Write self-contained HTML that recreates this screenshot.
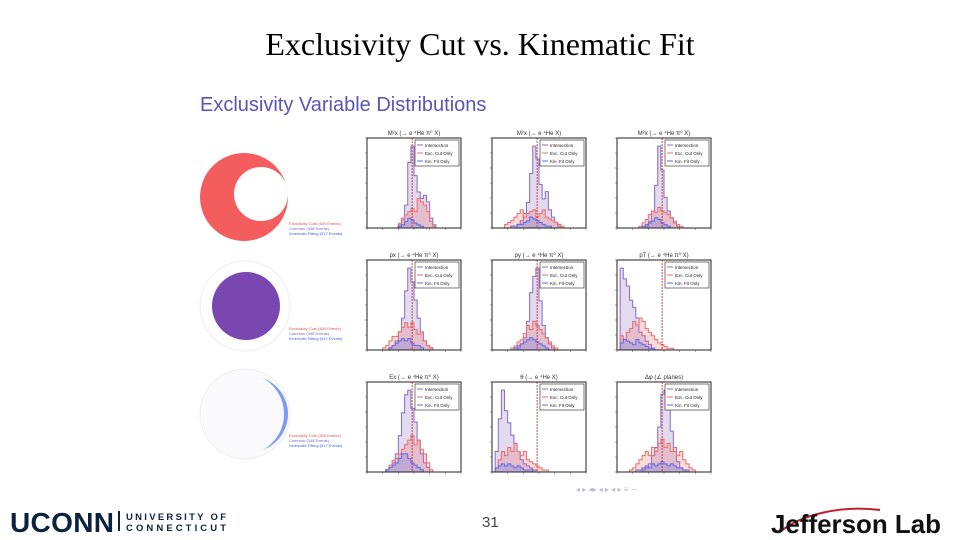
<!DOCTYPE html>
<html><head><meta charset="utf-8"><style>
body{margin:0;width:960px;height:540px;background:#fff;position:relative;overflow:hidden;font-family:"Liberation Sans",sans-serif}
.t{position:absolute}
</style></head><body>
<div class="t" style="left:0;width:960px;top:26px;text-align:center;font-family:'Liberation Serif',serif;font-size:32px;color:#000">Exclusivity Cut vs. Kinematic Fit</div>
<div class="t" style="left:200px;top:94px;font-size:20px;color:#5b55b8">Exclusivity Variable Distributions</div>
<svg class="t" style="left:0;top:0" width="960" height="540">
 <defs><clipPath id="c3"><circle cx="245" cy="414" r="45"/></clipPath></defs>
 <g>
  <circle cx="244" cy="197" r="44" fill="#f45d5d"/>
  <circle cx="261" cy="194" r="27" fill="#fff"/>
  <text x="289" y="225" font-size="4" fill="#e05050">Exclusivity Cuts (600 Events)</text>
  <text x="289" y="230" font-size="4" fill="#8060c0">Common (348 Events)</text>
  <text x="289" y="235" font-size="4" fill="#4060e0">Kinematic Fitting (517 Events)</text>
 </g>
 <g>
  <circle cx="245" cy="306" r="45" fill="none" stroke="#eee"/>
  <circle cx="246" cy="306" r="34" fill="#7a46b0"/>
  <text x="289" y="330" font-size="4" fill="#e05050">Exclusivity Cuts (600 Events)</text>
  <text x="289" y="335" font-size="4" fill="#8060c0">Common (348 Events)</text>
  <text x="289" y="340" font-size="4" fill="#4060e0">Kinematic Fitting (517 Events)</text>
 </g>
 <g>
  <circle cx="245" cy="414" r="45" fill="#fafafc" stroke="#eee"/>
  <g clip-path="url(#c3)"><circle cx="250" cy="414" r="38" fill="#7f9af0"/><circle cx="243" cy="414" r="41" fill="#fafafc"/></g>
  <text x="289" y="437" font-size="4" fill="#e05050">Exclusivity Cuts (600 Events)</text>
  <text x="289" y="442" font-size="4" fill="#8060c0">Common (348 Events)</text>
  <text x="289" y="447" font-size="4" fill="#4060e0">Kinematic Fitting (517 Events)</text>
 </g>
 <g id="panels"></g>
 <text x="576" y="492" font-size="8" fill="#bbc">◂ ▸ ◂▸ ◂ ▸ ◂ ▸ ≡ ∽</text>
 <text x="482" y="527" font-size="15" fill="#444">31</text>
 <text x="10" y="532" font-size="28" font-weight="bold" fill="#0c2340" textLength="104">UCONN</text>
 <rect x="118" y="511" width="2" height="20" fill="#0c2340"/>
 <text x="126" y="520" font-size="9.5" font-weight="bold" fill="#0c2340" textLength="100">UNIVERSITY OF</text>
 <text x="126" y="531" font-size="9.5" font-weight="bold" fill="#0c2340" textLength="100">CONNECTICUT</text>
 <path d="M780,532 C800,515 840,505 880,510" stroke="#c02030" stroke-width="2" fill="none"/>
 <text x="771" y="533" font-size="26" font-weight="bold" fill="#111" textLength="170" lengthAdjust="spacingAndGlyphs">Jefferson Lab</text>
</svg>
<script>
const titles=["M²x (→ e ⁴He π⁰ X)","M²x (→ e ⁴He X)","M²x (→ e ⁴He π⁰ X)","px (→ e ⁴He π⁰ X)","py (→ e ⁴He π⁰ X)","pT (→ e ⁴He π⁰ X)","Ex (→ e ⁴He π⁰ X)","θ (→ e ⁴He X)","Δφ (∠ planes)"];
const intersection=[
[0,0,0,0,0,0,0,0,0,0,2,5,14,40,50,32,22,18,20,16,6,2,0,0,0,0,0,0,0,0],
[0,0,0,0,0,0,0,0,2,4,8,14,30,45,38,24,16,20,10,6,3,1,0,0,0,0,0,0,0,0],
[0,0,0,0,0,0,0,0,0,1,4,10,25,48,34,18,10,6,3,1,0,0,0,0,0,0,0,0,0,0],
[0,0,0,0,0,0,0,1,2,4,8,14,26,36,30,22,14,8,4,2,1,0,0,0,0,0,0,0,0,0],
[0,0,0,0,0,0,0,0,1,3,6,14,28,36,40,24,12,6,3,1,0,0,0,0,0,0,0,0,0,0],
[0,46,40,36,28,24,18,10,8,5,3,1,0,0,0,0,0,0,0,0,0,0,0,0,0,0,0,0,0,0],
[0,0,0,0,0,0,1,2,4,8,16,26,34,36,28,22,14,8,4,2,0,0,0,0,0,0,0,0,0,0],
[0,10,26,40,30,24,18,14,10,6,4,3,2,1,0,0,0,0,0,0,0,0,0,0,0,0,0,0,0,0],
[0,0,0,0,0,0,0,0,1,2,4,8,12,22,38,40,32,20,10,5,2,1,0,0,0,0,0,0,0,0]];
const excCutOnly=[
[0,0,0,0,0,0,0,0,0,0,3,6,8,10,12,10,18,16,14,10,4,1,0,0,0,0,0,0,0,0],
[0,0,0,0,2,3,4,6,8,10,6,8,9,10,6,8,10,6,5,4,3,2,1,0,0,0,0,0,0,0],
[0,0,0,0,0,0,0,1,3,5,8,10,9,12,10,9,8,6,4,2,1,0,0,0,0,0,0,0,0,0],
[0,0,0,0,0,1,2,4,6,6,8,10,12,10,12,9,7,8,4,2,1,0,0,0,0,0,0,0,0,0],
[0,0,0,0,0,0,1,2,4,5,8,12,10,14,12,10,8,6,4,2,1,0,0,0,0,0,0,0,0,0],
[0,8,6,10,12,16,14,18,16,12,10,8,6,4,3,2,1,1,0,0,0,0,0,0,0,0,0,0,0,0],
[0,0,0,0,0,0,1,3,5,6,8,10,12,14,16,12,14,10,8,4,1,0,0,0,0,0,0,0,0,0],
[0,2,6,10,8,12,10,14,10,8,10,6,5,4,3,2,1,1,0,0,0,0,0,0,0,0,0,0,0,0],
[0,0,0,0,1,2,4,6,8,10,8,12,10,14,16,12,14,10,12,8,10,6,4,2,1,0,0,0,0,0]];
const kinFitOnly=[
[0,0,0,0,0,0,0,0,0,0,1,2,4,6,5,3,2,1,0,0,0,0,0,0,0,0,0,0,0,0],
[0,0,0,0,0,0,1,1,2,2,3,4,6,5,4,3,2,1,1,0,0,0,0,0,0,0,0,0,0,0],
[0,0,0,0,0,0,0,0,1,2,3,4,6,5,3,2,1,0,0,0,0,0,0,0,0,0,0,0,0,0],
[0,0,0,0,0,0,0,1,2,3,4,5,4,5,3,2,2,1,0,0,0,0,0,0,0,0,0,0,0,0],
[0,0,0,0,0,0,0,1,2,3,4,5,6,5,4,3,2,1,0,0,0,0,0,0,0,0,0,0,0,0],
[0,4,6,5,4,3,6,4,3,2,1,1,0,0,0,0,0,0,0,0,0,0,0,0,0,0,0,0,0,0],
[0,0,0,0,0,0,1,2,3,4,6,8,8,6,4,3,2,1,0,0,0,0,0,0,0,0,0,0,0,0],
[0,2,3,4,3,4,3,2,3,2,1,1,1,0,0,0,0,0,0,0,0,0,0,0,0,0,0,0,0,0],
[0,0,0,0,0,0,1,1,2,3,2,4,3,4,5,4,3,4,3,2,2,1,1,0,0,0,0,0,0,0]];
const colX=[367,492,617], rowY=[138,260,382], W=94, H=90;
const NS="http://www.w3.org/2000/svg";
const g=document.getElementById('panels');
function mk(tag,at,parent){const e=document.createElementNS(NS,tag);for(const k in at)e.setAttribute(k,at[k]);parent.appendChild(e);return e;}
for(let p=0;p<9;p++){
  const x0=colX[p%3], y0=rowY[Math.floor(p/3)];
  const pg=mk('g',{},g);
  
  
  const all=[intersection[p],excCutOnly[p],kinFitOnly[p]];
  const ymax=Math.max(...all.flat())*1.1;
  const n=intersection[p].length;
  const xs=i=>x0+i*W/n, ys=v=>y0+H-v/ymax*H;
  const tt=mk('text',{x:x0+W/2,y:y0-3,'font-size':6,'text-anchor':'middle',fill:'#333'},pg);tt.textContent=titles[p];
  const cols=['#8a6cc0','#ee6b6b','#5a6ae8'];
  all.forEach((arr,si)=>{
    let d='M'+xs(0)+','+ys(0);
    arr.forEach((v,i)=>{d+=' L'+xs(i)+','+ys(v)+' L'+xs(i+1)+','+ys(v);});
    d+=' L'+xs(n)+','+ys(0)+'Z';
    const s=mk('path',{d:d,fill:cols[si],'fill-opacity':0.25,stroke:cols[si],'stroke-width':1},pg);
    
    
  });
  mk('line',{x1:x0+W*0.48,x2:x0+W*0.48,y1:y0,y2:y0+H,stroke:'#c02020','stroke-dasharray':'2,1','stroke-width':0.8},pg);
  mk('rect',{x:x0,y:y0,width:W,height:H,fill:'none',stroke:'#222','stroke-width':1},pg);
  for(let k=0;k<=6;k++){mk('line',{x1:x0-2,x2:x0,y1:y0+H-k*H/6,y2:y0+H-k*H/6,stroke:'#444','stroke-width':0.5},pg);
    mk('line',{x1:x0+k*W/6,x2:x0+k*W/6,y1:y0+H,y2:y0+H+2,stroke:'#444','stroke-width':0.5},pg);}
  const lg=mk('g',{},pg);
  
  
  mk('rect',{x:x0+W-46,y:y0+2,width:44,height:26,fill:'#fff',stroke:'#222','stroke-width':0.6},lg);
  ['Intersection','Exc. Cut Only','Kin. Fit Only'].forEach((l,i)=>{
    mk('line',{x1:x0+W-44,x2:x0+W-38,y1:y0+7+i*8,y2:y0+7+i*8,stroke:cols[i]},lg);
    const t=mk('text',{x:x0+W-36,y:y0+9+i*8,'font-size':4.5,fill:'#222'},lg);t.textContent=l;
  });
}
</script>
</body></html>
